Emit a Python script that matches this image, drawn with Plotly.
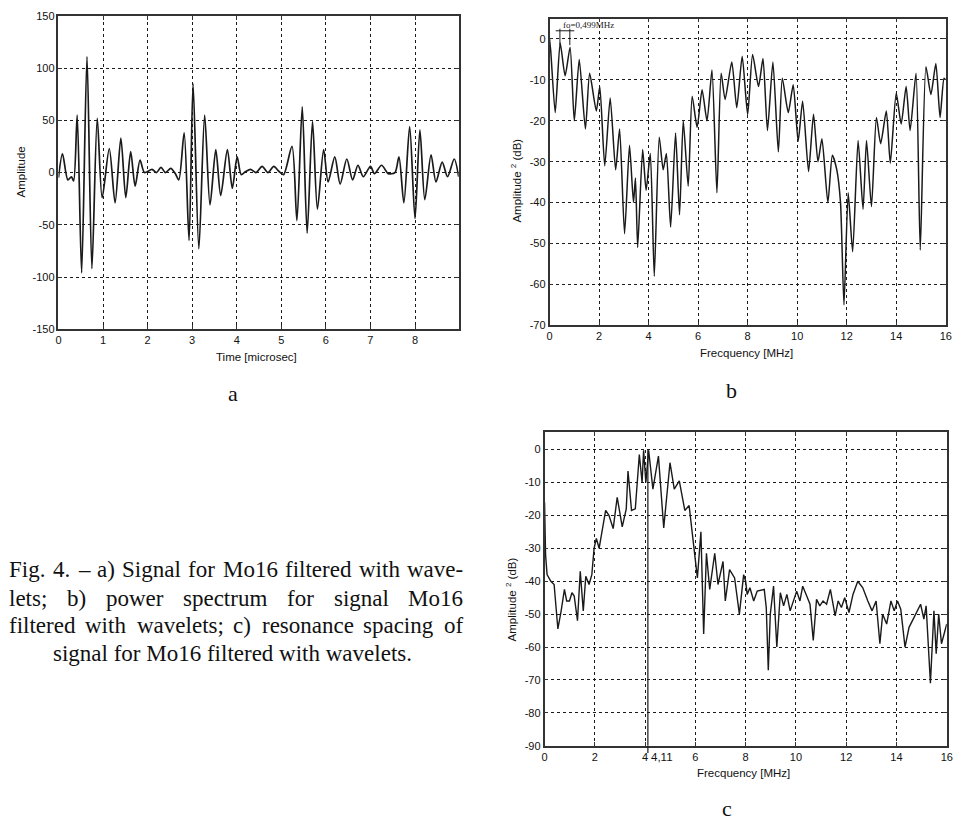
import plotly.graph_objects as go

# ---------------- data ----------------
# Panel a: filtered signal, local extrema (time in microsec, amplitude)
t_a = [0.0, 0.09, 0.21, 0.29, 0.34, 0.42, 0.52, 0.64, 0.75, 0.87, 0.98, 1.14, 1.27, 1.40, 1.51,
       1.62, 1.72, 1.83, 1.93, 2.10, 2.20, 2.30, 2.40, 2.52, 2.62, 2.70, 2.82, 2.93, 3.02, 3.15,
       3.28, 3.40, 3.53, 3.64, 3.79, 3.90, 4.01, 4.10, 4.20, 4.31, 4.43, 4.57, 4.70, 4.83, 4.95,
       5.05, 5.24, 5.35, 5.47, 5.58, 5.70, 5.81, 5.95, 6.05, 6.20, 6.32, 6.47, 6.60, 6.72, 6.84,
       7.00, 7.09, 7.25, 7.40, 7.55, 7.64, 7.75, 7.88, 8.00, 8.11, 8.22, 8.36, 8.47, 8.61, 8.73,
       8.88, 8.98]
amp_a = [-5, 18, -7, -4, -8, 55, -96, 111, -92, 52, -24, 23, -29, 33, -24,
         20, -13, 12, 0, 3, 0, 5, 0, 4, -1, -7, 38, -65, 85, -73,
         55, -31, 22, -22, 22, -15, 15, -2, 1, 3, 0, 6, 0, 6, 1,
         -2, 25, -46, 63, -58, 49, -35, 22, -9, 15, -11, 13, -7, 7, -4,
         6, -1, 7, -1, 0, 15, -29, 44, -44, 41, -26, 17, -9, 10, -4,
         13, -4]

# Panel b: power spectrum (MHz, dB)
f_b = [0.0, 0.05, 0.23, 0.43, 0.63, 0.83, 1.0, 1.2, 1.45, 1.62, 1.89, 2.03, 2.23, 2.45, 2.67,
       2.83, 3.03, 3.23, 3.39, 3.47, 3.56, 3.76, 3.9, 4.07, 4.23, 4.43, 4.59, 4.72, 4.89, 5.09,
       5.25, 5.4, 5.6, 5.76, 5.96, 6.16, 6.36, 6.56, 6.76, 6.93, 7.09, 7.36, 7.56, 7.78, 8.0,
       8.2, 8.44, 8.62, 8.8, 9.02, 9.24, 9.4, 9.64, 9.84, 10.04, 10.22, 10.46, 10.66, 10.84, 11.0,
       11.24, 11.42, 11.6, 11.75, 11.89, 12.06, 12.24, 12.46, 12.66, 12.8, 13.0, 13.2, 13.37, 13.6, 13.76,
       14.0, 14.2, 14.4, 14.56, 14.8, 14.97, 15.2, 15.4, 15.6, 15.77, 15.93, 16.0]
db_b = [0, -3, -18, -1, -9, -2, -20, -5, -22, -8.4, -17.6, -11.6, -31, -14.4, -32,
        -22, -47.6, -26, -40, -34, -51, -27, -37, -28, -58, -24, -32, -28, -46, -23,
        -43, -20, -36, -14, -21.6, -12.4, -20, -7.6, -37.6, -8.4, -14.8, -5.6, -16.8, -4.2, -18.5,
        -3.8, -11.6, -4.8, -22.4, -5.6, -27.6, -9.6, -18, -11.2, -25, -15.2, -32.4, -18.4, -30, -24.4,
        -40, -28.4, -32, -40, -65, -37.6, -52, -24.8, -41.6, -24.8, -41, -19.2, -25.6, -17.6, -30.4,
        -13.2, -20.8, -11.6, -22.4, -8.4, -51.6, -6.8, -13.6, -6, -19.2, -9.6, -10]
fo_peaks = [0.42, 0.82]          # the two peaks bracketed by the fo marker
fo_label = "fo=0,499MHz"

# Panel c: resonance spacing spectrum (MHz, dB)
f_c = [0.0, 0.04, 0.10, 0.25, 0.38, 0.53, 0.66, 0.79, 0.88, 0.99, 1.09, 1.18, 1.31, 1.42, 1.54,
       1.64, 1.77, 1.88, 1.97, 2.06, 2.17, 2.43, 2.56, 2.73, 2.89, 3.09, 3.25, 3.32, 3.46, 3.61,
       3.77, 3.88, 3.94, 4.03, 4.14, 4.31, 4.53, 4.74, 4.99, 5.16, 5.36, 5.58, 5.75, 5.91, 6.08,
       6.22, 6.33, 6.44, 6.57, 6.77, 6.9, 7.1, 7.19, 7.36, 7.56, 7.75, 7.92, 8.0, 8.06, 8.17,
       8.32, 8.46, 8.74, 8.82, 8.9, 8.98, 9.11, 9.24, 9.38, 9.51, 9.64, 9.77, 10.03, 10.16, 10.27,
       10.43, 10.56, 10.69, 10.82, 10.95, 11.08, 11.22, 11.37, 11.56, 11.68, 11.81, 11.94, 12.11, 12.27, 12.46,
       12.66, 12.86, 13.03, 13.19, 13.34, 13.45, 13.61, 13.78, 13.91, 14.04, 14.17, 14.34, 14.5, 14.7, 14.96,
       15.09, 15.18, 15.35, 15.49, 15.58, 15.68, 15.79, 15.95, 16.0]
db_c = [-16, -32, -38, -40, -41, -54.5, -49, -42.5, -46, -46, -43.5, -44.5, -52, -37, -49,
        -38.5, -41, -38, -30, -27, -30, -18.5, -20, -24, -14.5, -23.5, -18, -6.5, -18.5, -18,
        -1.5, -10, -0.2, -10, -0.2, -12, -2, -23.8, -4, -12, -9.5, -18.5, -17, -28, -39,
        -25, -56, -31.5, -42.5, -31.5, -41, -34, -46, -36.5, -39, -50, -38, -40, -44, -42,
        -46, -43, -42.5, -48, -67, -50, -41.5, -60, -43.5, -47.5, -44, -49, -43, -46, -41.5,
        -44.5, -47, -58, -45.5, -47.5, -46, -47, -42.5, -50.5, -46, -48, -45, -49.5, -44, -40,
        -42, -46, -49, -46, -59, -50, -53, -46, -49, -46, -48.5, -60, -54, -51, -47,
        -51.5, -47.5, -71, -49, -62, -50, -59, -54, -53]
res_freq = 4.11
res_label = "4,11"

# tick values
xt_a = [0, 1, 2, 3, 4, 5, 6, 7, 8]
yt_a = [-150, -100, -50, 0, 50, 100, 150]
xt_bc = [0, 2, 4, 6, 8, 10, 12, 14, 16]
yt_b = [-70, -60, -50, -40, -30, -20, -10, 0]
yt_c = [-90, -80, -70, -60, -50, -40, -30, -20, -10, 0]

caption_lines = [
    "Fig. 4. – a) Signal for Mo16 filtered with wave-",
    "lets; b) power spectrum for signal Mo16",
    "filtered with wavelets; c) resonance spacing of",
    "signal for Mo16 filtered with wavelets.",
]
panel_labels = ["a", "b", "c"]

# ---------------- layout helpers ----------------
W, H = 958, 828
def px(x):
    return x / W
def py(y):
    return 1 - y / H

SANS = "Liberation Sans, Arial, sans-serif"
SERIF = "Liberation Serif, Times New Roman, serif"
INK = "#1a1a1a"

fig = go.Figure()
fig.add_trace(go.Scatter(x=t_a, y=amp_a, xaxis="x", yaxis="y", mode="lines",
                         line=dict(color=INK, width=1.7, shape="spline", smoothing=0.8),
                         showlegend=False, hoverinfo="skip"))
fig.add_trace(go.Scatter(x=f_b, y=db_b, xaxis="x2", yaxis="y2", mode="lines",
                         line=dict(color=INK, width=1.5, shape="spline", smoothing=0.6),
                         showlegend=False, hoverinfo="skip"))
fig.add_trace(go.Scatter(x=f_c, y=db_c, xaxis="x3", yaxis="y3", mode="lines",
                         line=dict(color=INK, width=1.4), showlegend=False, hoverinfo="skip"))

ax = dict(showline=True, linecolor="#333", linewidth=1.5, mirror="ticks",
          ticks="inside", ticklen=4, tickcolor="#333",
          showgrid=True, gridcolor=INK, gridwidth=1.4, griddash="3px,3px",
          zeroline=False, tickfont=dict(family=SANS, size=11, color="#111"))

def ticks(vals):
    return dict(tickmode="array", tickvals=vals, ticktext=[str(v) for v in vals])

fig.update_layout(
    width=W, height=H, margin=dict(l=0, r=0, t=0, b=0),
    paper_bgcolor="white", plot_bgcolor="white",
    xaxis=dict(ax, domain=[px(56), px(460)], range=[0, 8.98], anchor="y", **ticks(xt_a)),
    yaxis=dict(ax, domain=[py(328), py(10)], range=[-150, 150], anchor="x", **ticks(yt_a)),
    xaxis2=dict(ax, domain=[px(551.7), px(951.7)], range=[0, 16], anchor="y2", **ticks(xt_bc)),
    yaxis2=dict(ax, domain=[py(324), py(12.7)], range=[-70, 5], anchor="x2", **ticks(yt_b)),
    xaxis3=dict(ax, domain=[px(546.7), px(952.7)], range=[0, 16], anchor="y3", **ticks(xt_bc)),
    yaxis3=dict(ax, domain=[py(750.7), py(432.7)], range=[-90, 5.2], anchor="x3", **ticks(yt_c)),
)

ann = []
def paper_text(text, x, y, size, family=SANS, angle=0, xanchor="center"):
    ann.append(dict(text=text, x=px(x), y=py(y), xref="paper", yref="paper",
                    xanchor=xanchor, yanchor="middle", showarrow=False, textangle=angle,
                    font=dict(family=family, size=size, color="#111")))

# axis titles
paper_text("Amplitude", 18, 168, 11.5, angle=-90)
paper_text("Time [microsec]", 256, 356, 11.5)
paper_text("Amplitude <sup>2</sup> (dB)", 518, 177, 11.5, angle=-90)
paper_text("Frecquency [MHz]", 751, 352, 11.5)
paper_text("Amplitude <sup>2</sup> (dB)", 513, 602, 11.5, angle=-90)
paper_text("Frecquency [MHz]", 748, 778, 11.5)

# panel letters
paper_text(panel_labels[0], 232, 393, 22, family=SERIF)
paper_text(panel_labels[1], 735, 390, 22, family=SERIF)
paper_text(panel_labels[2], 731, 814, 22, family=SERIF)

# fo marker in panel b
ann.append(dict(text=fo_label, x=0.45, y=3.4, xref="x2", yref="y2", xanchor="left",
                yanchor="middle", showarrow=False,
                font=dict(family=SERIF, size=9, color=INK)))
# resonance label in panel c
ann.append(dict(text=res_label, x=res_freq, y=py(762), xref="x3", yref="paper",
                xanchor="left", yanchor="middle", showarrow=False, xshift=1,
                font=dict(family=SANS, size=11.5, color="#111")))

# caption (justified by word placement using Times metrics)
TW = {' ': 250, 'a': 444, 'b': 500, 'c': 444, 'd': 500, 'e': 444, 'f': 333, 'g': 500, 'h': 500,
      'i': 278, 'l': 278, 'm': 778, 'n': 500, 'o': 500, 'p': 500, 'q': 500, 'r': 333, 's': 389,
      't': 278, 'u': 500, 'v': 500, 'w': 722, 'y': 500, 'F': 556, 'M': 889, 'S': 556, '.': 250,
      ';': 278, ')': 333, '–': 500, '-': 333}
CAP = 23
def wwidth(w):
    return sum(TW.get(ch, 500) for ch in w) * CAP / 1000.0

cap_y = [572, 601, 629, 657]
L, R = 5, 463
for i, line in enumerate(caption_lines):
    if i < 3:
        words = line.split(" ")
        widths = [wwidth(w) for w in words]
        gap = (R - L - sum(widths)) / (len(words) - 1)
        x = L
        for w, wd in zip(words, widths):
            ann.append(dict(text=w, x=px(x - 1), y=py(cap_y[i]), xref="paper", yref="paper",
                            xanchor="left", yanchor="middle", showarrow=False,
                            font=dict(family=SERIF, size=CAP, color="#111")))
            x += wd + gap
    else:
        ann.append(dict(text=line, x=px(232), y=py(cap_y[i]), xref="paper", yref="paper",
                        xanchor="center", yanchor="middle", showarrow=False,
                        font=dict(family=SERIF, size=CAP, color="#111")))

fig.update_layout(annotations=ann)

shapes = []
# fo bracket
shapes.append(dict(type="line", xref="x2", yref="y2", x0=fo_peaks[0] - 0.17, x1=fo_peaks[1] + 0.18,
                   y0=2, y1=2, line=dict(color=INK, width=1)))
for fp in fo_peaks:
    shapes.append(dict(type="line", xref="x2", yref="y2", x0=fp, x1=fp, y0=2.5, y1=-1.5,
                       line=dict(color=INK, width=1)))
# resonance line (4.11 MHz)
shapes.append(dict(type="line", xref="x3", yref="y3", x0=res_freq, x1=res_freq, y0=0, y1=-90,
                   line=dict(color=INK, width=1.2)))
shapes.append(dict(type="line", xref="x3 domain", yref="paper", x0=res_freq / 16, x1=res_freq / 16,
                   y0=py(750.7), y1=py(758), line=dict(color=INK, width=1.2)))
fig.update_layout(shapes=shapes)

# remove the default 8px body margin so the figure fills the window exactly
fig.write_html("out.html", config={"displayModeBar": False},
               post_script="document.body.style.margin='0';document.body.style.overflow='hidden';")
